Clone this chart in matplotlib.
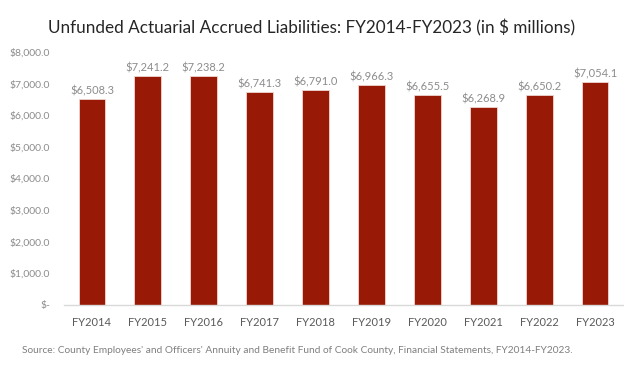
import matplotlib.pyplot as plt
import numpy as np

years = ['FY2014', 'FY2015', 'FY2016', 'FY2017', 'FY2018',
         'FY2019', 'FY2020', 'FY2021', 'FY2022', 'FY2023']
uaal = [6508.3, 7241.2, 7238.2, 6741.3, 6791.0,
        6966.3, 6655.5, 6268.9, 6650.2, 7054.1]
yticks = [0, 1000, 2000, 3000, 4000, 5000, 6000, 7000, 8000]

plt.rcParams['font.family'] = ['Lato', 'DejaVu Sans']

fig = plt.figure(figsize=(6.24, 3.68), dpi=100)
ax = fig.add_axes([0.1026, 0.1712, 0.8958, 0.6875])

x = np.arange(len(years))
ax.bar(x, uaal, width=0.48, color='#981905', edgecolor='#f0d6d0', linewidth=0.6)

for xi, v in zip(x, uaal):
    ax.text(xi, v + 80, '${:,.1f}'.format(v), ha='center', va='bottom',
            fontsize=8, color='#8c8c8c')

ax.set_xlim(-0.5, len(years) - 0.5)
ax.set_ylim(0, 8000)
ax.set_xticks(x)
ax.set_xticklabels(years, fontsize=8, color='#595959')
ax.set_yticks(yticks)
ax.set_yticklabels(['$-' if t == 0 else '${:,.1f}'.format(t) for t in yticks],
                   fontsize=7.5, color='#8c8c8c')
ax.tick_params(axis='both', length=0)
ax.tick_params(axis='x', pad=9)
ax.tick_params(axis='y', pad=10)

for s in ['top', 'right', 'left']:
    ax.spines[s].set_visible(False)
ax.spines['bottom'].set_color('#d9d9d9')
ax.spines['bottom'].set_linewidth(1)

fig.text(0.5, 0.925, 'Unfunded Actuarial Accrued Liabilities: FY2014-FY2023 (in $ millions)',
         ha='center', va='center', fontsize=12.3, color='#262626')
fig.text(0.035, 0.047, "Source: County Employees' and Officers' Annuity and Benefit Fund of Cook County, Financial Statements, FY2014-FY2023.",
         ha='left', va='center', fontsize=7.3, color='#7f7f7f')

fig.savefig('out.png', dpi=100)
